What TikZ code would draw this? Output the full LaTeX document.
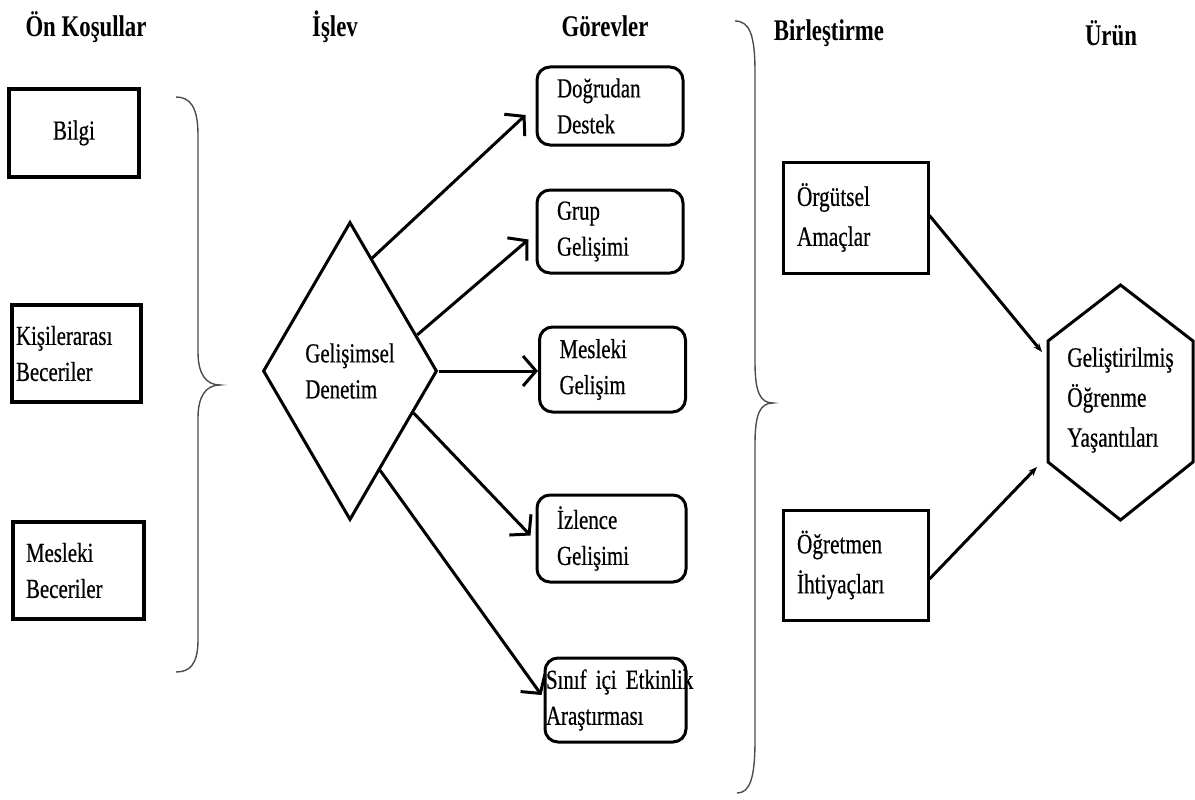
\documentclass[tikz,border=0pt]{standalone}
\usepackage{fontspec}
\setmainfont{Liberation Serif}[FakeStretch=0.76, UprightFeatures={FakeBold=0.5}]
\usetikzlibrary{arrows.meta,shapes.geometric,calc}
\begin{document}
\begin{tikzpicture}[x=1pt,y=-1pt,
  every node/.style={font=\fontsize{27.5pt}{36pt}\selectfont, inner sep=0pt},
  titletext/.style={font=\fontsize{30pt}{35pt}\selectfont\bfseries, anchor=base},
  leftbox/.style={draw, line width=4pt, align=left},
  taskbox/.style={draw, line width=3pt, rounded corners=13pt, align=left, text width=106pt, inner xsep=20pt},
  rightbox/.style={draw, line width=3pt, align=left, font=\fontsize{28pt}{40pt}\selectfont, text width=117pt, inner xsep=14pt},
  barb/.style={-{Straight Barb[length=13pt,width=30pt]}, line width=3pt},
  smallarrow/.style={-{Stealth[length=9pt,width=7pt]}, line width=3pt},
  bracestyle/.style={draw=black!70, line width=1.4pt}
]
\useasboundingbox (0,0) rectangle (1195,800);

% titles
\node[titletext] (ton) at (86,37) {Ön Koşullar};
\node[titletext] (tislev) at (335,37) {İşlev};
\node[titletext] (tgorev) at (605,37) {Görevler};
\node[titletext] (tbirl) at (829,41) {Birleştirme};
\node[titletext] (turun) at (1111,46) {Ürün};

% left boxes
\node[leftbox, minimum width=130pt, minimum height=88pt, align=center] (bilgi) at (74,133) {Bilgi};
\node[leftbox, minimum height=97pt, text width=121pt, inner xsep=4pt] (kisi) at (76.5,353.5) {Kişilerarası\\Beceriler};
\node[leftbox, minimum height=97pt, text width=105pt, inner xsep=13pt] (mesb) at (78.5,570.5) {Mesleki\\Beceriler};

% left brace
\draw[bracestyle] (176,97) .. controls (190,97) and (198,107) .. (198,135) -- (198,352) .. controls (198,374) and (206,385) .. (220,385) .. controls (206,385) and (198,396) .. (198,418) -- (198,640) .. controls (198,664) and (190,672) .. (176,672);

% diamond
\node[diamond, draw, line width=3pt, minimum width=174pt, minimum height=298pt, aspect=0.584, align=left] (dia) at (350,371) {Gelişimsel\\Denetim};

% task boxes
\node[taskbox, minimum height=78pt] (t1) at (610,106) {Doğrudan\\Destek};
\node[taskbox, minimum height=83pt] (t2) at (610,231.5) {Grup\\Gelişimi};
\node[taskbox, minimum height=85pt] (t3) at (612.5,369.5) {Mesleki\\Gelişim};
\node[taskbox, minimum height=87pt, text width=109pt] (t4) at (611.5,538.5) {İzlence\\Gelişimi};
\node[taskbox, minimum height=84pt, text width=139pt, inner xsep=1pt] (t5) at (615.5,700) {\mbox{Sınıf içi Etkinlik}\\Araştırması};

% arrows from diamond
\draw[barb] ($(dia.north)!0.25!(dia.east)$) -- ([xshift=-10pt,yshift=-9pt]t1.west);
\draw[barb] ($(dia.north)!0.76!(dia.east)$) -- ([xshift=-7pt,yshift=-8pt]t2.west);
\draw[barb] (dia.east) -- (dia.east -| t3.west);
\draw[barb] ($(dia.east)!0.28!(dia.south)$) -- ([xshift=-5pt,yshift=3pt]t4.west);
\draw[barb] ($(dia.east)!0.66!(dia.south)$) -- ([xshift=-2pt,yshift=5pt]t5.west);

% right brace
\draw[bracestyle] (735,21) .. controls (750,21) and (755,36) .. (755,72) -- (755,362) .. controls (755,392) and (760,403) .. (773,403) .. controls (760,403) and (755,414) .. (755,444) -- (755,740) .. controls (755,778) and (750,793) .. (737,793);

% right boxes
\node[rightbox, minimum height=111pt] (org) at (855.5,217.5) {Örgütsel\\Amaçlar};
\node[rightbox, minimum height=110pt] (ogr) at (855.5,565) {Öğretmen\\İhtiyaçları};

% hexagon
\draw[line width=3pt, line join=miter] (1120.5,285) coordinate (hT) -- (1193,341) coordinate (hUR) -- (1193,462) coordinate (hLR) -- (1120.5,520) coordinate (hB) -- (1048,462) coordinate (hLL) -- (1048,341) coordinate (hUL) -- cycle;
\node[align=left, font=\fontsize{28pt}{40pt}\selectfont] (hex) at (1120.5,400) {Geliştirilmiş\\Öğrenme\\Yaşantıları};

\draw[smallarrow] ([yshift=2pt]org.east) -- ($(hUL)+(-6,11)$);
\draw[smallarrow] ([yshift=-14pt]ogr.east) -- ($(hLL)+(-11,5)$);
\end{tikzpicture}
\end{document}
